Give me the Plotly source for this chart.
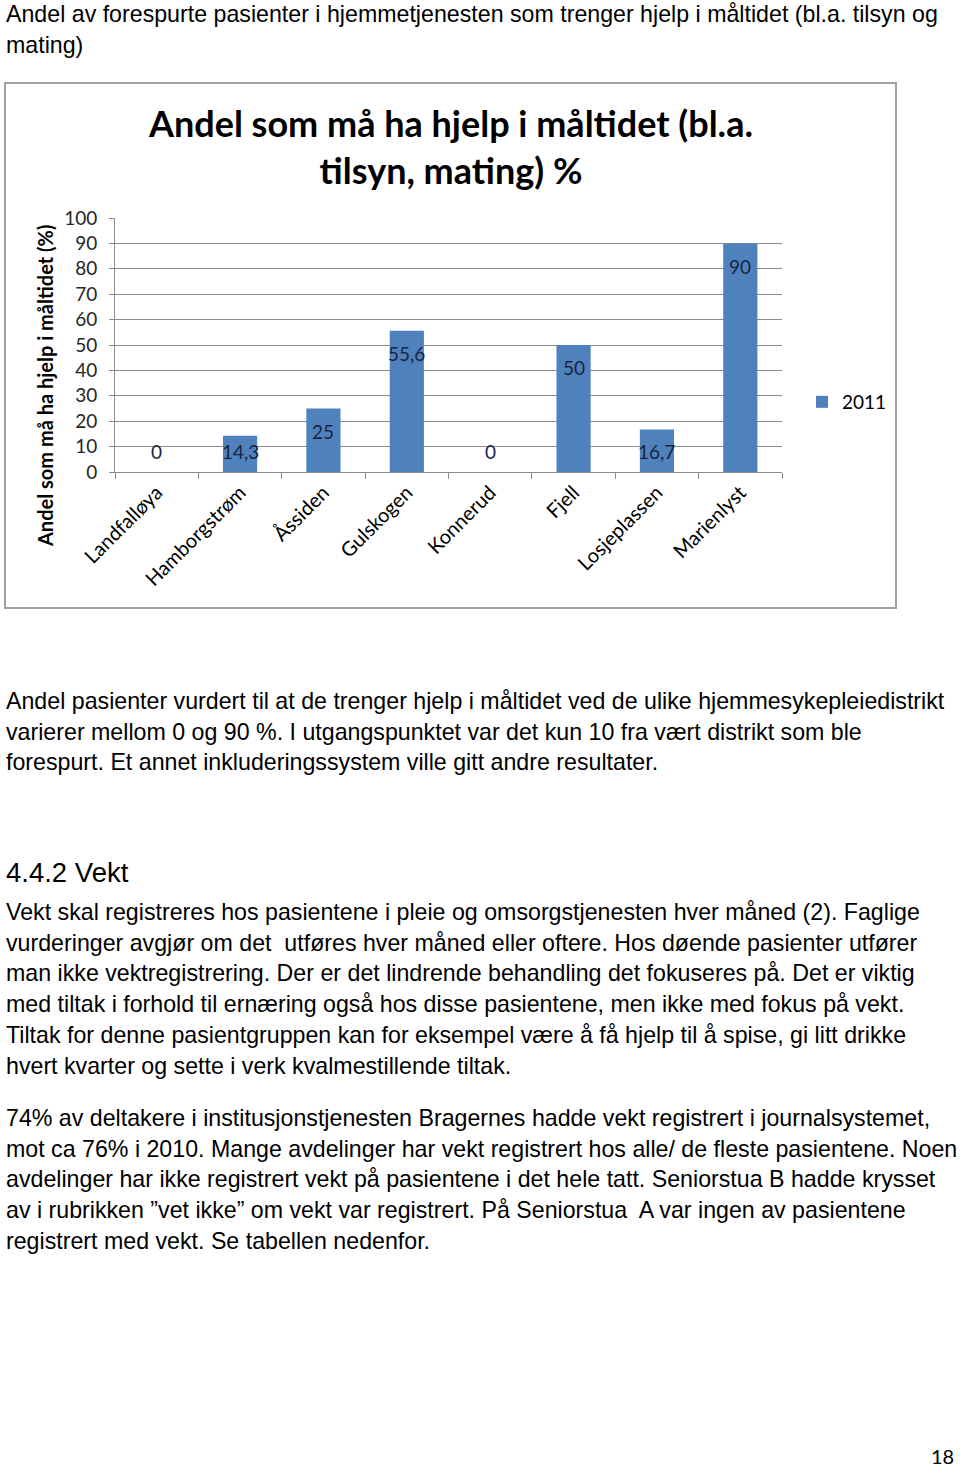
import plotly.graph_objects as go

W, H = 960, 1470

categories = ["Landfalløya", "Hamborgstrøm", "Åssiden", "Gulskogen", "Konnerud",
              "Fjell", "Losjeplassen", "Marienlyst"]
values_2011 = [0, 14.3, 25, 55.6, 0, 50, 16.7, 90]
value_labels = ["0", "14,3", "25", "55,6", "0", "50", "16,7", "90"]
series_name = "2011"
y_ticks = [0, 10, 20, 30, 40, 50, 60, 70, 80, 90, 100]

chart_title = "<b>Andel som må ha hjelp i måltidet (bl.a.<br>tilsyn, mating) %</b>"
y_title = "Andel som må ha hjelp i måltidet (%)"

para_top = ["Andel av forespurte pasienter i hjemmetjenesten som trenger hjelp i måltidet (bl.a. tilsyn og",
            "mating)"]
para_1 = ["Andel pasienter vurdert til at de trenger hjelp i måltidet ved de ulike hjemmesykepleiedistrikt",
          "varierer mellom 0 og 90 %. I utgangspunktet var det kun 10 fra vært distrikt som ble",
          "forespurt. Et annet inkluderingssystem ville gitt andre resultater."]
heading = "4.4.2 Vekt"
para_2 = ["Vekt skal registreres hos pasientene i pleie og omsorgstjenesten hver måned (2). Faglige",
          "vurderinger avgjør om det  utføres hver måned eller oftere. Hos døende pasienter utfører",
          "man ikke vektregistrering. Der er det lindrende behandling det fokuseres på. Det er viktig",
          "med tiltak i forhold til ernæring også hos disse pasientene, men ikke med fokus på vekt.",
          "Tiltak for denne pasientgruppen kan for eksempel være å få hjelp til å spise, gi litt drikke",
          "hvert kvarter og sette i verk kvalmestillende tiltak."]
para_3 = ["74% av deltakere i institusjonstjenesten Bragernes hadde vekt registrert i journalsystemet,",
          "mot ca 76% i 2010. Mange avdelinger har vekt registrert hos alle/ de fleste pasientene. Noen",
          "avdelinger har ikke registrert vekt på pasientene i det hele tatt. Seniorstua B hadde krysset",
          "av i rubrikken \u201dvet ikke\u201d om vekt var registrert. På Seniorstua  A var ingen av pasientene",
          "registrert med vekt. Se tabellen nedenfor."]
page_no = "18"


def px(x):
    return x / W


def py(y):
    return 1 - y / H


BAR = "#4F81BD"
GRID = "#8c8c8c"
CHART_FONT = "Lato"
BODY_FONT = "Liberation Sans"

fig = go.Figure()
fig.add_trace(go.Bar(x=categories, y=values_2011, name=series_name,
                     marker=dict(color=BAR, line=dict(width=0)),
                     hoverinfo="x+y"))

annotations = []

# data labels (inside end, kept above the baseline)
px_per_unit = (472 - 218) / 100.0
for c, v, t in zip(categories, values_2011, value_labels):
    ly = max(v - 23 / px_per_unit, 20 / px_per_unit)
    annotations.append(dict(x=c, y=ly, xref="x", yref="y", text=t, showarrow=False,
                            font=dict(family=CHART_FONT, size=19, color="#1a2440"),
                            xanchor="center", yanchor="middle"))

# chart title
annotations.append(dict(x=px(450), y=py(147), xref="paper", yref="paper", text=chart_title,
                        showarrow=False, xanchor="center", yanchor="middle", align="center",
                        font=dict(family=CHART_FONT, size=36, color="#000000")))
# y axis title
annotations.append(dict(x=px(45), y=py(386), xref="paper", yref="paper", text="<b>" + y_title + "</b>",
                        showarrow=False, xanchor="center", yanchor="middle", textangle=-90,
                        font=dict(family=CHART_FONT, size=20, color="#000000")))


def add_lines(lines, y0, step, size=23.2):
    for i, line in enumerate(lines):
        annotations.append(dict(x=px(4), y=py(y0 + i * step), xref="paper", yref="paper",
                                text=line, showarrow=False, xanchor="left", yanchor="middle",
                                font=dict(family=BODY_FONT, size=size, color="#000000")))


add_lines(para_top, 14, 30.7)
add_lines(para_1, 701, 30.7)
annotations.append(dict(x=px(4), y=py(872), xref="paper", yref="paper", text=heading,
                        showarrow=False, xanchor="left", yanchor="middle",
                        font=dict(family=BODY_FONT, size=27.5, color="#000000")))
add_lines(para_2, 912, 30.7)
add_lines(para_3, 1118, 30.7)
annotations.append(dict(x=px(956), y=py(1456), xref="paper", yref="paper", text=page_no,
                        showarrow=False, xanchor="right", yanchor="middle",
                        font=dict(family=CHART_FONT, size=20, color="#000000")))

shapes = [dict(type="rect", xref="paper", yref="paper", x0=px(5), x1=px(896),
               y0=py(608), y1=py(83), line=dict(color="#a0a0a0", width=2), layer="below")]

fig.update_layout(
    width=W, height=H,
    margin=dict(l=0, r=0, t=0, b=0, pad=0, autoexpand=False),
    paper_bgcolor="white", plot_bgcolor="white",
    bargap=0.59,
    showlegend=True,
    legend=dict(x=px(802), y=py(402), xref="paper", yref="paper", xanchor="left", yanchor="middle",
                font=dict(family=CHART_FONT, size=19, color="#000000"),
                bgcolor="rgba(0,0,0,0)", itemwidth=30, borderwidth=0),
    xaxis=dict(domain=[px(115), px(782)], showgrid=False, showline=True, linecolor=GRID,
               linewidth=1, ticks="outside", tickson="boundaries", ticklen=6, tickcolor=GRID,
               tickangle=-45, tickfont=dict(family=CHART_FONT, size=20, color="#000000"),
               anchor="y", automargin=False),
    yaxis=dict(domain=[py(472), py(218)], range=[0, 100], tickvals=y_ticks, showgrid=True,
               gridcolor=GRID, gridwidth=1, showline=True, linecolor=GRID, linewidth=1,
               ticks="outside", ticklen=5, tickcolor=GRID, zeroline=False,
               tickfont=dict(family=CHART_FONT, size=19, color="#262626"), ticklabelstandoff=8,
               anchor="x", automargin=False),
    annotations=annotations,
    shapes=shapes,
)

fig.write_html("out.html", config={"displayModeBar": False},
               post_script="document.body.style.margin='0';document.body.style.overflow='hidden';")
